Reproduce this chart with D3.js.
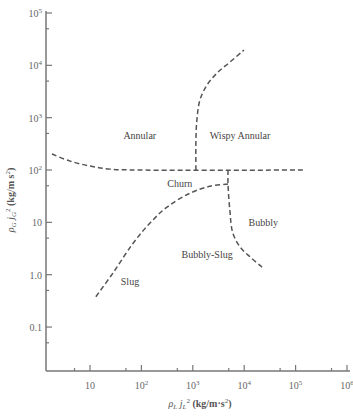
<!DOCTYPE html>
<html>
<head>
<meta charset="UTF-8">
<style>
  body { margin: 0; background: #fff; }
  svg text { font-family: 'Liberation Serif', 'DejaVu Serif', serif; }
</style>
</head>
<body>
<div id="chart"></div>
<script src="https://cdnjs.cloudflare.com/ajax/libs/d3/7.8.5/d3.min.js"></script>
<script>
// boundary curves, [rho_L jL^2, rho_G jG^2]
const annularChurn = [[1.82, 202], [4.1, 148], [10, 119], [24.5, 104], [93, 100], [150000, 100]];
const annularWispy = [[1150, 100], [1150, 374], [1200, 900], [1380, 2190], [1890, 4200], [2950, 7100], [5260, 11500], [9900, 19600]];
const churnBubbly = [[4840, 100], [4840, 54], [5260, 17], [6000, 6.3], [8300, 3.4], [12900, 2.2], [22300, 1.4]];
const churnSlug = [[4840, 54], [2160, 49], [880, 36], [315, 19.6], [147, 9.7], [69, 4.0], [28, 1.08], [12.5, 0.36]];

const regionNames = ["Annular", "Wispy Annular", "Churn", "Bubbly", "Bubbly-Slug", "Slug"];
const regionX = [93, 8300, 560, 23500, 1900, 60];
const regionY = [470, 470, 56, 10, 2.5, 0.76];

const xTickVals = [10, 1e2, 1e3, 1e4, 1e5, 1e6];
const xTickText = ["10", "10|2", "10|3", "10|4", "10|5", "10|6"];
const yTickVals = [0.1, 1, 10, 1e2, 1e3, 1e4, 1e5];
const yTickText = ["0.1", "1.0", "10", "10|2", "10|3", "10|4", "10|5"];
const minorTicks = [5, 50, 500, 5000, 50000, 500000];
const yMinorTicks = [0.05, 0.5, 5, 50, 500, 5000, 50000];

const W = 353, H = 420;
const svg = d3.select("#chart").append("svg").attr("width", W).attr("height", H);

const x = d3.scaleLog().domain([Math.pow(10, 0.144), 1e6]).range([46, 347]);
const y = d3.scaleLog().domain([Math.pow(10, -1.84), Math.pow(10, 5)]).range([371, 13]);

const axisColor = "#777";
const g = svg.append("g");

// axes lines
g.append("line").attr("x1", 46).attr("x2", 350).attr("y1", 371).attr("y2", 371)
  .attr("stroke", axisColor).attr("stroke-width", 1.5);
g.append("line").attr("x1", 46).attr("x2", 46).attr("y1", 11).attr("y2", 371)
  .attr("stroke", axisColor).attr("stroke-width", 1.5);

// ticks
g.selectAll(".xt").data(xTickVals).join("line")
  .attr("x1", d => x(d)).attr("x2", d => x(d)).attr("y1", 371).attr("y2", 365)
  .attr("stroke", axisColor).attr("stroke-width", 1.2);
g.selectAll(".xm").data(minorTicks.filter(d => x(d) > 46)).join("line")
  .attr("x1", d => x(d)).attr("x2", d => x(d)).attr("y1", 371).attr("y2", 368)
  .attr("stroke", axisColor).attr("stroke-width", 1.2);
g.selectAll(".yt").data(yTickVals).join("line")
  .attr("x1", 46).attr("x2", 52).attr("y1", d => y(d)).attr("y2", d => y(d))
  .attr("stroke", axisColor).attr("stroke-width", 1.2);
g.selectAll(".ym").data(yMinorTicks.filter(d => y(d) > 13)).join("line")
  .attr("x1", 46).attr("x2", 49).attr("y1", d => y(d)).attr("y2", d => y(d))
  .attr("stroke", axisColor).attr("stroke-width", 1.2);

function tickLabel(sel, txt) {
  const parts = txt.split("|");
  sel.append("tspan").text(parts[0]);
  if (parts[1]) sel.append("tspan").attr("dy", -4).attr("font-size", 7).text(parts[1]);
}

xTickVals.forEach((v, i) => {
  const t = g.append("text").attr("x", x(v)).attr("y", 389)
    .attr("text-anchor", "middle").attr("font-size", 10).attr("fill", "#666");
  tickLabel(t, xTickText[i]);
});
yTickVals.forEach((v, i) => {
  const t = g.append("text").attr("x", 42).attr("y", y(v) + 4)
    .attr("text-anchor", "end").attr("font-size", 10).attr("fill", "#666");
  tickLabel(t, yTickText[i]);
});

// axis titles
function axisTitle(sel, sub, unit) {
  sel.append("tspan").attr("font-style", "italic").text("ρ");
  sel.append("tspan").attr("font-style", "italic").attr("font-size", 7).attr("dy", 2).text(sub);
  sel.append("tspan").attr("font-style", "italic").attr("dy", -2).text(" j");
  sel.append("tspan").attr("font-style", "italic").attr("font-size", 7).attr("dy", 2).text(sub);
  sel.append("tspan").attr("font-size", 7).attr("dy", -6).text("2");
  sel.append("tspan").attr("dy", 4).attr("font-weight", "bold").text(" (" + unit);
  sel.append("tspan").attr("font-size", 7).attr("dy", -4).text("2");
  sel.append("tspan").attr("dy", 4).attr("font-weight", "bold").text(")");
}
const xt = g.append("text").attr("x", 200).attr("y", 407).attr("text-anchor", "middle")
  .attr("font-size", 10).attr("fill", "#555");
axisTitle(xt, "L", "kg/m·s");

const yt = g.append("text").attr("transform", "translate(14,200) rotate(-90)")
  .attr("text-anchor", "middle").attr("font-size", 10).attr("fill", "#555");
axisTitle(yt, "G", "kg/m s");

// boundary lines
const lineV = d3.line().x(d => x(d[0])).y(d => y(d[1])).curve(d3.curveCatmullRom);
[annularChurn, annularWispy, churnBubbly, churnSlug].forEach(pts => {
  g.append("path").attr("d", lineV(pts))
    .attr("fill", "none").attr("stroke", "#555").attr("stroke-width", 1.5)
    .attr("stroke-dasharray", "5,3");
});

// region labels
g.selectAll(".rl").data(regionNames).join("text")
  .attr("x", (d, i) => x(regionX[i])).attr("y", (d, i) => y(regionY[i]) + 4)
  .attr("text-anchor", "middle").attr("font-size", 10).attr("fill", "#444")
  .text(d => d);
</script>
</body>
</html>
